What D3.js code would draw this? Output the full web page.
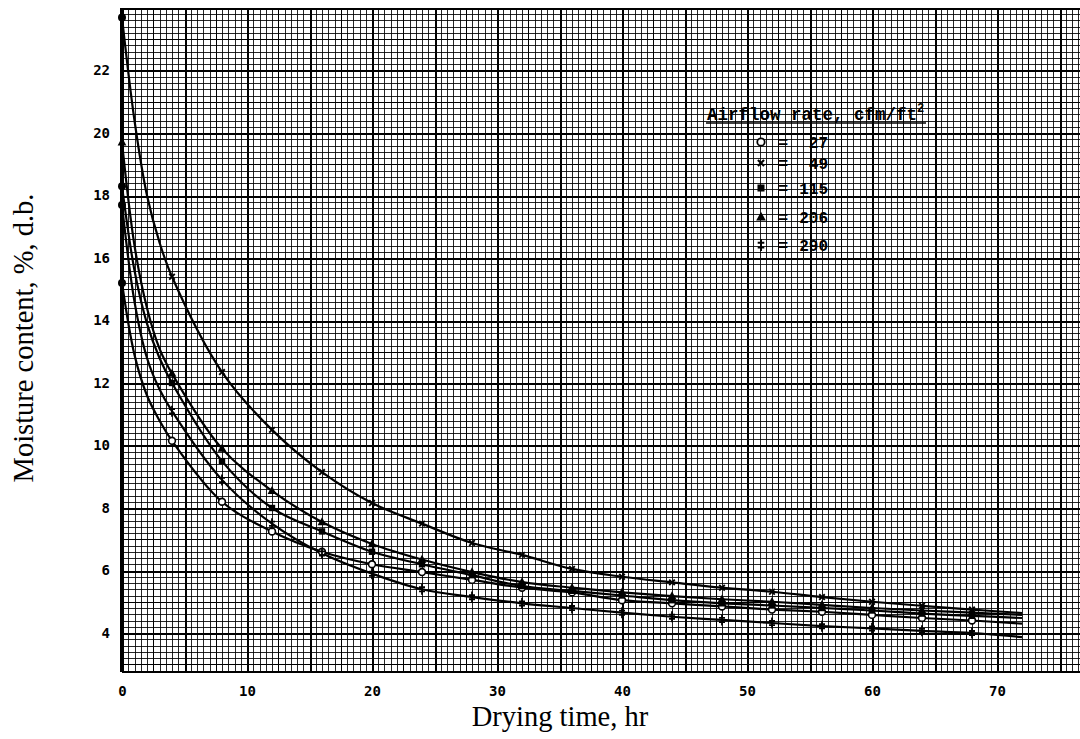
<!DOCTYPE html>
<html>
<head>
<meta charset="utf-8">
<script src="https://cdn.jsdelivr.net/npm/d3@7"></script>
<style>
  html, body { margin: 0; padding: 0; background: #fff; }
  svg { display: block; }
</style>
</head>
<body>
<svg id="chart" width="1080" height="739"></svg>
<script>
// readings taken off the drying curves (hr vs % d.b.), markers every 4 hr
const markerHours = [0, 4, 8, 12, 16, 20, 24, 28, 32, 36, 40, 44, 48, 52, 56, 60, 64, 68];

const airflowRates = ["27", "49", "115", "206", "290"];
const markerTypes = ["circle", "cross", "square", "triangle", "dagger"];

const mc27  = [15.2, 10.15, 8.2, 7.25, 6.6, 6.2, 5.95, 5.7, 5.45, 5.3, 5.05, 4.95, 4.85, 4.75, 4.68, 4.58, 4.48, 4.4];
const mc49  = [23.7, 15.4, 12.35, 10.5, 9.15, 8.16, 7.5, 6.88, 6.5, 6.05, 5.8, 5.62, 5.45, 5.32, 5.15, 5.0, 4.87, 4.75];
const mc115 = [18.3, 12.0, 9.5, 8.0, 7.25, 6.6, 6.2, 5.85, 5.5, 5.35, 5.2, 5.05, 4.95, 4.88, 4.8, 4.72, 4.62, 4.55];
const mc206 = [19.7, 12.3, 9.9, 8.55, 7.55, 6.85, 6.35, 5.95, 5.63, 5.45, 5.3, 5.18, 5.08, 5.0, 4.9, 4.8, 4.72, 4.65];
const mc290 = [17.7, 11.1, 8.9, 7.5, 6.55, 5.9, 5.4, 5.15, 4.95, 4.8, 4.65, 4.52, 4.42, 4.32, 4.22, 4.15, 4.07, 4.0];

// extra readings of the hand-drawn curves between the markers near t=0 and at their right end
const earlyHours = [1, 2, 3];
const early27  = [12.9, 11.6, 10.8];
const early49  = [20.4, 18.0, 16.5];
const early115 = [15.6, 13.9, 12.8];
const early206 = [16.4, 14.4, 13.1];
const early290 = [14.6, 12.8, 11.8];

const endHour = 72;
const end27  = 4.3;
const end49  = 4.64;
const end115 = 4.48;
const end206 = 4.58;
const end290 = 3.87;

const xTicks = [0, 10, 20, 30, 40, 50, 60, 70];
const yTicks = [4, 6, 8, 10, 12, 14, 16, 18, 20, 22];

const series = [
	{ rate: "27",  marker: "circle",   values: mc27,  early: early27,  end: end27 },
	{ rate: "49",  marker: "cross",    values: mc49,  early: early49,  end: end49 },
	{ rate: "115", marker: "square",   values: mc115, early: early115, end: end115 },
	{ rate: "206", marker: "triangle", values: mc206, early: early206, end: end206 },
	{ rate: "290", marker: "dagger",   values: mc290, early: early290, end: end290 }
];

const width = 1080, height = 739;
const svg = d3.select("#chart");

svg.append("rect").attr("width", width).attr("height", height).attr("fill", "#fff");

// 12.5 px per hour, 31.25 px per % moisture
const x = d3.scaleLinear().domain([0, 70]).range([122, 997]);
const y = d3.scaleLinear().domain([4, 24]).range([633, 8]);

const gridLeft = x(0), gridRight = width, gridTop = y(24), gridBottom = y(2.75);

// graph paper
const grid = svg.append("g").attr("shape-rendering", "crispEdges").attr("stroke", "#000");

const nV = Math.floor((x.invert(gridRight) - 0) / 0.5);
d3.range(0, nV + 1).forEach(function(i) {
	const xv = Math.round(x(i * 0.5)) + 0.5;
	const w = i % 10 === 0 ? 2 : (i % 5 === 0 ? 1.5 : 1);
	grid.append("line")
		.attr("x1", xv).attr("x2", xv)
		.attr("y1", gridTop).attr("y2", gridBottom)
		.attr("stroke-width", w)
		.attr("stroke-opacity", i % 5 === 0 ? 1 : 0.85);
});

const nH = Math.round((24 - 2.8) / 0.2);
d3.range(0, nH + 1).forEach(function(j) {
	const yv = Math.round(y(24 - j * 0.2)) + 0.5;
	const w = j % 10 === 0 ? 2 : (j % 5 === 0 ? 1.5 : 1);
	grid.append("line")
		.attr("x1", gridLeft).attr("x2", gridRight)
		.attr("y1", yv).attr("y2", yv)
		.attr("stroke-width", w)
		.attr("stroke-opacity", j % 5 === 0 ? 1 : 0.85);
});

grid.append("line")
	.attr("x1", gridLeft).attr("x2", gridRight)
	.attr("y1", gridBottom).attr("y2", gridBottom)
	.attr("stroke-width", 2);
grid.append("line")
	.attr("x1", gridLeft - 1).attr("x2", gridLeft - 1)
	.attr("y1", gridTop).attr("y2", gridBottom)
	.attr("stroke-width", 2.5);

// axes
const tickFont = "'DejaVu Sans Mono', 'Liberation Mono', monospace";

const xAxis = svg.append("g")
	.attr("transform", "translate(0," + (gridBottom + 11) + ")")
	.call(d3.axisBottom(x).tickValues(xTicks).tickSize(0).tickFormat(d3.format("d")));
xAxis.select(".domain").remove();
xAxis.selectAll("text")
	.attr("font-family", tickFont)
	.attr("font-weight", "bold")
	.attr("font-size", 14)
	.attr("fill", "#000");

const yAxis = svg.append("g")
	.attr("transform", "translate(" + (gridLeft - 9) + ",0)")
	.call(d3.axisLeft(y).tickValues(yTicks).tickSize(0).tickFormat(d3.format("d")));
yAxis.select(".domain").remove();
yAxis.selectAll("text")
	.attr("font-family", tickFont)
	.attr("font-weight", "bold")
	.attr("font-size", 14)
	.attr("fill", "#000");

// axis titles
svg.append("text")
	.attr("x", 560).attr("y", 726)
	.attr("text-anchor", "middle")
	.attr("font-family", "'Liberation Serif', 'DejaVu Serif', serif")
	.attr("font-size", 28.5)
	.attr("fill", "#000")
	.text("Drying time, hr");

svg.append("text")
	.attr("transform", "translate(33,338) rotate(-90)")
	.attr("text-anchor", "middle")
	.attr("font-family", "'Liberation Serif', 'DejaVu Serif', serif")
	.attr("font-size", 28.5)
	.attr("fill", "#000")
	.text("Moisture content, %, d.b.");

// curves
const line = d3.line()
	.x(function(d) { return x(d[0]); })
	.y(function(d) { return y(d[1]); })
	.curve(d3.curveCatmullRom.alpha(0.5));

const curves = svg.append("g");

series.forEach(function(s) {
	const pts = [[markerHours[0], s.values[0]]];
	earlyHours.forEach(function(h, i) { pts.push([h, s.early[i]]); });
	markerHours.slice(1).forEach(function(h, i) { pts.push([h, s.values[i + 1]]); });
	pts.push([endHour, s.end]);

	curves.append("path")
		.datum(pts)
		.attr("d", line)
		.attr("fill", "none")
		.attr("stroke", "#000")
		.attr("stroke-width", 2.2);
});

function drawMarker(g, type, cx, cy, scale) {
	const k = scale || 1;
	const m = g.append("g").attr("transform", "translate(" + cx + "," + cy + ") scale(" + k + ")");
	if (type === "circle") {
		m.append("circle").attr("r", 3.4).attr("fill", "#fff").attr("stroke", "#000").attr("stroke-width", 1.6);
	} else if (type === "dot") {
		m.append("circle").attr("r", 4).attr("fill", "#000");
	} else if (type === "cross") {
		m.append("path").attr("d", "M-2.8,-2.8L2.8,2.8M-2.8,2.8L2.8,-2.8")
			.attr("stroke", "#000").attr("stroke-width", 1.9);
	} else if (type === "square") {
		m.append("rect").attr("x", -3.2).attr("y", -3.2).attr("width", 6.4).attr("height", 6.4).attr("fill", "#000");
	} else if (type === "triangle") {
		m.append("path").attr("d", "M0,-4.8L4.4,3.2L-4.4,3.2Z").attr("fill", "#000");
	} else if (type === "dagger") {
		m.append("path").attr("d", "M0,-5.5V5.5M-3,-2H3M-3,2.2H3")
			.attr("stroke", "#000").attr("stroke-width", 1.8);
	}
}

const markers = svg.append("g");
series.forEach(function(s) {
	markerHours.forEach(function(h, i) {
		// the starting readings were inked as solid dots, except the triangle
		const type = (i === 0 && s.marker !== "triangle") ? "dot" : s.marker;
		drawMarker(markers, type, x(h), y(s.values[i]));
	});
});

// legend typed on the paper
const legendFont = "'Liberation Mono', 'DejaVu Sans Mono', monospace";
const legend = svg.append("g");

legend.append("text")
	.attr("x", 707).attr("y", 120)
	.attr("font-family", legendFont)
	.attr("font-weight", "bold")
	.attr("font-size", 17.5)
	.attr("fill", "#000")
	.text("Airflow rate, cfm/ft")
	.append("tspan")
	.attr("dy", -8)
	.attr("font-size", 12)
	.text("2");

legend.append("line")
	.attr("x1", 706).attr("x2", 926)
	.attr("y1", 123).attr("y2", 123)
	.attr("stroke", "#000").attr("stroke-width", 1.6);

const legendRows = [143, 164, 189, 218, 246];
airflowRates.forEach(function(r, i) {
	const ly = legendRows[i];
	drawMarker(legend, markerTypes[i], 761, ly - 1, 1.1);
	legend.append("text")
		.attr("x", 783).attr("y", ly + 5)
		.attr("text-anchor", "middle")
		.attr("font-family", legendFont)
		.attr("font-weight", "bold")
		.attr("font-size", 17)
		.attr("fill", "#000")
		.text("=");
	legend.append("text")
		.attr("x", 828).attr("y", ly + 5)
		.attr("text-anchor", "end")
		.attr("font-family", legendFont)
		.attr("font-weight", "bold")
		.attr("font-size", 16)
		.attr("fill", "#000")
		.text(r);
});
</script>
</body>
</html>
